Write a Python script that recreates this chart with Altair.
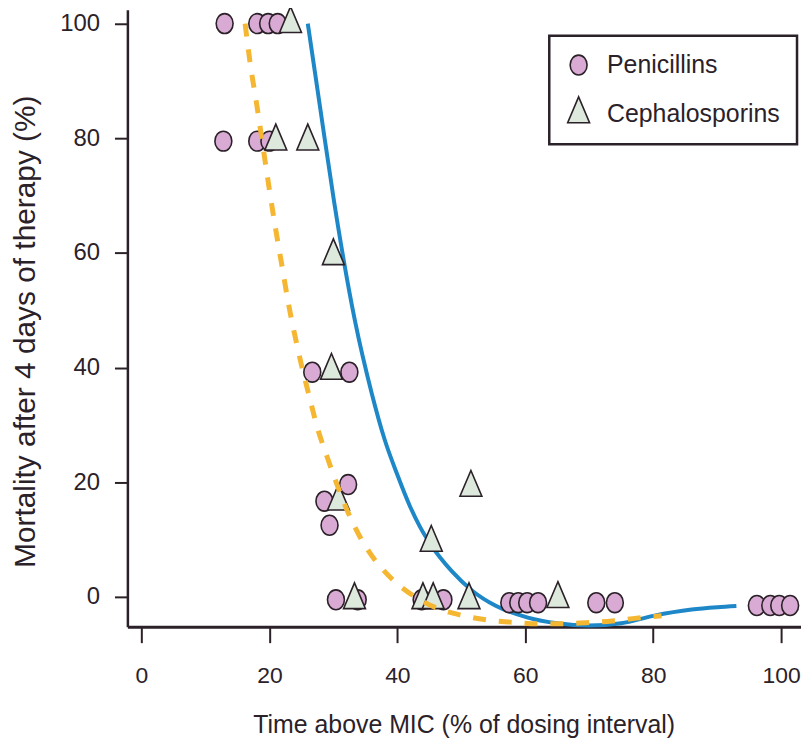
import altair as alt
import pandas as pd

# ---------------- data ----------------
series_names = ["Penicillins", "Cephalosporins"]

pen_x = [13.0, 18.1, 19.8, 21.3, 12.8, 18.1, 20.0, 26.7, 32.5, 32.3, 28.6, 29.4,
         30.4, 33.8, 43.8, 47.2, 57.5, 58.9, 60.3, 62.0, 71.1, 74.0,
         96.2, 98.3, 99.7, 101.4]
pen_y = [100, 100, 100, 100, 79.5, 79.5, 79.5, 39.2, 39.2, 19.6, 16.7, 12.5,
         -0.5, -0.5, -0.5, -0.5, -1, -1, -1, -1, -1, -1,
         -1.5, -1.5, -1.5, -1.5]

ceph_x = [23.3, 21.0, 26.0, 30.0, 29.7, 30.8, 51.5, 45.3, 33.3, 44.0, 45.6, 51.2, 65.1]
ceph_y = [100, 79.5, 79.5, 59.5, 39.5, 16.7, 19.1, 9.5, -0.5, -0.5, -0.5, -0.5, -0.3]

blue_x = [26.0, 28.0, 30.1, 33.4, 36.0, 38.0, 40.0, 41.9, 43.5, 45.3, 48.5, 51.8,
          55.3, 60.4, 65.0, 70.0, 75.0, 80.0, 86.0, 90.0, 93.0]
blue_y = [100, 84.8, 69, 48, 35.5, 27.5, 21.3, 16, 12.3, 9, 4.5, 1.0,
          -1.5, -3.6, -4.6, -5.0, -4.6, -3.3, -2.2, -1.8, -1.6]

orange_x = [16.2, 17.0, 18.0, 19.0, 20.0, 21.0, 22.0, 23.0, 24.0, 25.0, 26.0, 27.5,
            29.0, 30.5, 32.0, 34.0, 36.0, 39.0, 42.5, 46.5, 50.0, 54.0, 57.7,
            61.8, 65.7, 69.5, 73.6, 77.4, 81.3]
orange_y = [100, 93, 86, 78.5, 71, 64, 57.5, 51, 45.5, 40.5, 36, 29.5,
            24.5, 19.8, 15.5, 10.8, 7.2, 3.3, 0.2, -2.1, -3.2, -4.0, -4.4,
            -4.7, -4.7, -4.5, -4.2, -3.7, -3.3]

x_ticks = [0, 20, 40, 60, 80, 100]
y_ticks = [0, 20, 40, 60, 80, 100]

x_title = "Time above MIC (% of dosing interval)"
y_title = "Mortality after 4 days of therapy (%)"

# ---------------- tables ----------------
pts = pd.DataFrame({
    "x": pen_x + ceph_x,
    "y": pen_y + ceph_y,
    "series": [series_names[0]] * len(pen_x) + [series_names[1]] * len(ceph_x),
})
blue = pd.DataFrame({"x": blue_x, "y": blue_y})
orange = pd.DataFrame({"x": orange_x, "y": orange_y})

DARK = "#2b2128"
FONT = "Liberation Sans"
ellipse = "M-0.773,0 A0.773,0.909 0 1,0 0.773,0 A0.773,0.909 0 1,0 -0.773,0 Z"
triangle = "M0,-1.55 L1,0.81 L-1,0.81 Z"

xs = alt.Scale(domain=[-2.2, 103.1], nice=False, zero=False)
ys = alt.Scale(domain=[-5.2, 102.4], nice=False, zero=False)

x_axis = alt.Axis(values=x_ticks, title=x_title, grid=False, format="d",
                  domainColor=DARK, domainWidth=3, tickColor=DARK, tickWidth=2,
                  tickSize=16, labelPadding=22, labelFontSize=23, labelFont=FONT,
                  labelColor=DARK, labelFlush=False, titleFont=FONT,
                  titleFontSize=25, titleFontWeight="normal", titleColor=DARK,
                  titleX=338, titleY=106, titleBaseline="alphabetic")
y_axis = alt.Axis(values=y_ticks, title=y_title, grid=False, format="d",
                  domainColor=DARK, domainWidth=2.5, tickColor=DARK, tickWidth=2,
                  tickSize=13, labelPadding=15, labelFontSize=24, labelFont=FONT,
                  labelColor=DARK, titleFont=FONT, titleFontSize=30,
                  titleFontWeight="normal", titleColor=DARK, titleX=-93,
                  titleY=323, titleBaseline="alphabetic", titleAngle=270)

legend = alt.Legend(title=None, orient="none", legendX=424, legendY=26,
                    labelFontSize=25, labelFont=FONT, labelColor=DARK,
                    labelOffset=16, labelLimit=400, rowPadding=15, symbolSize=484,
                    symbolStrokeColor=DARK, symbolStrokeWidth=1.6,
                    padding=17, strokeColor=DARK, fillColor="white")

blue_line = alt.Chart(blue).mark_line(color="#1d87c7", strokeWidth=4,
                                      interpolate="monotone").encode(
    x=alt.X("x:Q", scale=xs, axis=x_axis),
    y=alt.Y("y:Q", scale=ys, axis=y_axis),
)

points = alt.Chart(pts).mark_point(filled=True, opacity=1,
                                   strokeWidth=1.6, size=484).encode(
    x=alt.X("x:Q", scale=xs),
    y=alt.Y("y:Q", scale=ys),
    fill=alt.Fill("series:N", scale=alt.Scale(domain=series_names,
                                              range=["#d9abd4", "#dde9dc"]),
                  legend=legend),
    stroke=alt.Stroke("series:N", scale=alt.Scale(domain=series_names,
                                                  range=[DARK, DARK]),
                      legend=legend),
    shape=alt.Shape("series:N", scale=alt.Scale(domain=series_names,
                                                range=[ellipse, triangle]),
                    legend=legend),
)

orange_line = alt.Chart(orange).mark_line(color="#f5b631", strokeWidth=5,
                                          strokeDash=[13, 13], strokeCap="butt",
                                          interpolate="monotone").encode(
    x=alt.X("x:Q", scale=xs),
    y=alt.Y("y:Q", scale=ys),
)

chart = alt.layer(blue_line, points, orange_line).properties(
    width=677, height=620,
    padding={"left": 120, "top": 0, "right": 0, "bottom": 112},
    autosize=alt.AutoSizeParams(type="none"),
    background="white",
).configure_view(strokeWidth=0).configure_legend(strokeWidth=2.5)

chart.save("out.html", embed_options={"renderer": "svg", "actions": False})
